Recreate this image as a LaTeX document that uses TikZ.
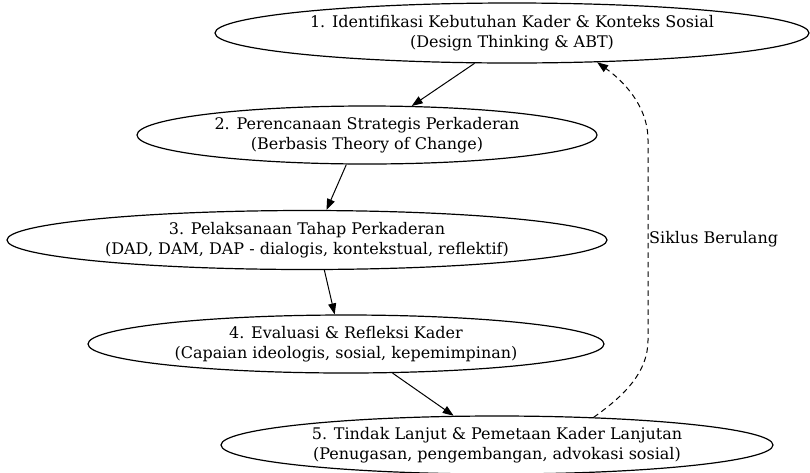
\documentclass[tikz,border=0pt]{standalone}
\usepackage{fontspec}
\setmainfont{DejaVu Serif}
\usetikzlibrary{arrows.meta,shapes.geometric}

\tikzset{
  stage/.style={ellipse, draw, line width=1.2pt, inner sep=0pt,
    align=center, font=\fontsize{16}{19.5}\selectfont},
  flow/.style={line width=1pt, -{Triangle[length=11pt,width=8pt]}},
  loopback/.style={flow, dash pattern=on 5.5pt off 4pt},
  note/.style={font=\fontsize{16}{19.5}\selectfont, inner sep=0.5pt}
}

\begin{document}
\begin{tikzpicture}[x=1pt,y=-1pt]
  \useasboundingbox (0,0) rectangle (810,472);

  \node[stage, minimum width=594, minimum height=60] (s1) at (512,33)
    {1. Identifikasi Kebutuhan Kader \& Konteks Sosial\\(Design Thinking \& ABT)};
  \node[stage, minimum width=460, minimum height=58] (s2) at (367,135)
    {2. Perencanaan Strategis Perkaderan\\(Berbasis Theory of Change)};
  \node[stage, minimum width=600, minimum height=59] (s3) at (307,240)
    {3. Pelaksanaan Tahap Perkaderan\\(DAD, DAM, DAP - dialogis, kontekstual, reflektif)};
  \node[stage, minimum width=516, minimum height=58] (s4) at (346,344)
    {4. Evaluasi \& Refleksi Kader\\(Capaian ideologis, sosial, kepemimpinan)};
  \node[stage, minimum width=552, minimum height=58] (s5) at (497,445)
    {5. Tindak Lanjut \& Pemetaan Kader Lanjutan\\(Penugasan, pengembangan, advokasi sosial)};

  % forward flow
  \draw[flow] (s1.219) -- (s2.33);
  \draw[flow] (s2.235) -- (s3.57);
  \draw[flow] (s3.300) -- (s4.111);
  \draw[flow] (s4.328) -- (s5.146);

  % feedback loop back to the first stage
  \coordinate (loopLow) at (648,340);
  \coordinate (loopHigh) at (648,140);
  \draw[loopback] (s5.16) .. controls (625,395) and (648,372) .. (loopLow)
    -- (loopHigh) .. controls (648,105) and (622,80) .. (s1.341);
  \node[note, anchor=west] (cycle) at (648.5,239) {Siklus Berulang};
\end{tikzpicture}
\end{document}
